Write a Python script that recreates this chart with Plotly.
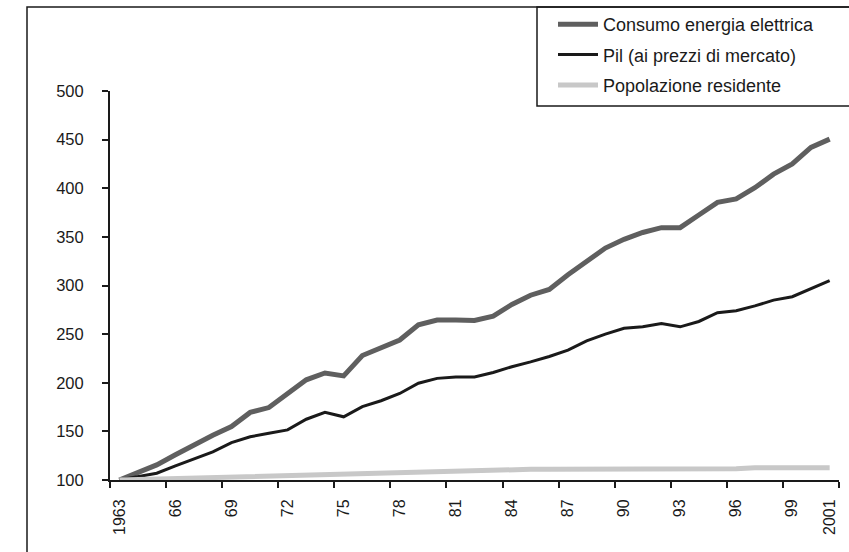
import plotly.graph_objects as go

# Index numbers (1963 = 100)
years = list(range(1963, 2002))
consumo = [100, 108, 115.5, 126, 136.5, 146, 155, 169.5, 174.5, 189,
           203, 210, 207, 228, 235.5, 244, 259.5, 264.5, 264.5, 264,
           268.5, 280.5, 290, 296, 311, 325, 338.5, 347.5, 354.5, 359.5,
           359.5, 372.5, 385.5, 389, 400.5, 414.5, 425, 442, 450.5]
pil = [100, 103.5, 107, 114.5, 122, 129, 138.5, 144.5, 148, 151.5,
       162.5, 169.5, 165, 175.5, 181.5, 189, 199.5, 204.5, 206, 206,
       210.5, 216.5, 221.5, 227, 233.5, 243, 250, 256, 257.5, 261,
       257.5, 263, 272, 274, 279, 285, 288.5, 297, 305]
popolazione = [100, 100.5, 101, 102, 103, 103.5, 104, 104.5, 105, 105.5,
               106, 106.5, 107, 107.5, 108, 108.5, 109, 109.5, 110, 110,
               110.5, 110.5, 111, 111, 111, 111, 111, 111, 111, 111,
               111, 111, 111, 111.5, 112.5, 112.5, 112.5, 112.5, 112.5]

series_names = ["Consumo energia elettrica", "Pil (ai prezzi di mercato)",
                "Popolazione residente"]
y_ticks = [100, 150, 200, 250, 300, 350, 400, 450, 500]

# year labels every third year, plus the final year
label_idx = list(range(0, len(years), 3)) + [len(years) - 1]
label_txt = [str(years[i]) if years[i] in (1963, 2001) else f"{years[i] % 100:02d}"
             for i in label_idx]

W, H = 849, 552
L, R, T, B = 110, 10, 91, 72
pw, ph = W - L - R, H - T - B


def px(x):
    return (x - L) / pw


def py(y):
    return (H - B - y) / ph


xi = list(range(len(years)))
fig = go.Figure()
fig.add_trace(go.Scatter(x=xi, y=consumo, name=series_names[0], mode="lines",
                         line=dict(color="#5f5f5f", width=5), legendgroup="a"))
fig.add_trace(go.Scatter(x=xi, y=pil, name=series_names[1], mode="lines",
                         line=dict(color="#1a1a1a", width=3), legendgroup="b"))
fig.add_trace(go.Scatter(x=xi, y=popolazione, name=series_names[2], mode="lines",
                         line=dict(color="#c8c8c8", width=5), legendgroup="c"))

# boundary ticks between year groups
minor_vals = [i - 0.5 for i in range(0, len(years), 3)] + [len(years) - 0.5]

fig.update_xaxes(range=[-0.5, len(years) - 0.5], tickmode="array",
                 tickvals=label_idx, ticktext=label_txt, tickangle=-90,
                 ticks="", showline=True, linecolor="#1a1a1a", linewidth=2,
                 showgrid=False, zeroline=False,
                 tickfont=dict(family="Liberation Sans, Arial", size=16, color="#1a1a1a"),
                 ticklabelstandoff=11,
                 minor=dict(tickmode="array", tickvals=minor_vals, ticks="outside",
                            ticklen=6, tickwidth=2, tickcolor="#1a1a1a", showgrid=False))
fig.update_yaxes(range=[100, 500], tickmode="array", tickvals=y_ticks,
                 ticks="outside", ticklen=6, tickwidth=2, tickcolor="#1a1a1a",
                 showline=True, linecolor="#1a1a1a", linewidth=2,
                 showgrid=False, zeroline=False,
                 tickfont=dict(family="Liberation Sans, Arial", size=16.5, color="#1a1a1a"),
                 ticklabelstandoff=15)

# chart frame (left and top edges) and legend box
fig.add_shape(type="path", xref="paper", yref="paper",
              path=f"M {px(27)} {py(560)} L {px(27)} {py(7)} L {px(860)} {py(7)}",
              line=dict(color="#1a1a1a", width=1.5))
fig.add_shape(type="rect", xref="paper", yref="paper",
              x0=px(537), x1=px(860), y0=py(106), y1=py(7),
              line=dict(color="#1a1a1a", width=1.5), fillcolor="white", layer="below")

fig.update_layout(
    width=W, height=H,
    margin=dict(l=L, r=R, t=T, b=B, autoexpand=False),
    paper_bgcolor="white", plot_bgcolor="white",
    showlegend=True,
    legend=dict(xref="container", yref="container", x=(558 - 5) / W, y=1 - 6 / H,
                xanchor="left", yanchor="top", bgcolor="rgba(0,0,0,0)",
                borderwidth=0, tracegroupgap=4, itemwidth=40,
                font=dict(family="Liberation Sans, Arial", size=18, color="#1a1a1a")),
)

fig.write_html("out.html")
